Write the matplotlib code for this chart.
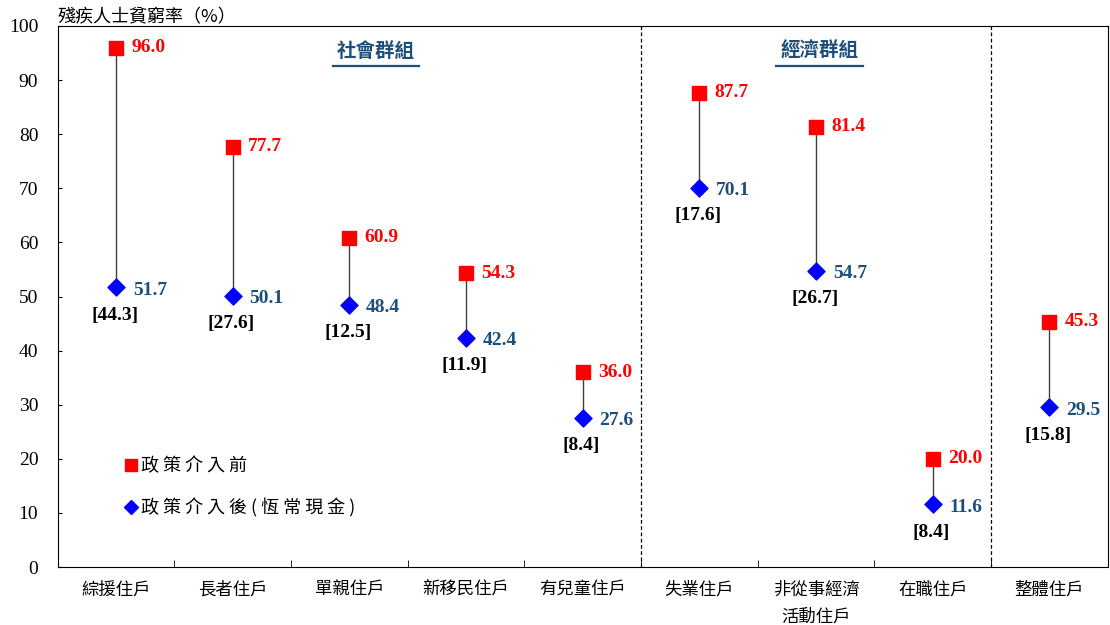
import numpy as np
import matplotlib.pyplot as plt
from matplotlib.lines import Line2D

plt.rcParams['font.family'] = ['Liberation Serif', 'Noto Sans CJK TC', 'DejaVu Sans']

# datos
categorias = ['綜援住戶', '長者住戶', '單親住戶', '新移民住戶', '有兒童住戶',
              '失業住戶', '非從事經濟\n活動住戶', '在職住戶', '整體住戶']
antes = [96.0, 77.7, 60.9, 54.3, 36.0, 87.7, 81.4, 20.0, 45.3]
despues = [51.7, 50.1, 48.4, 42.4, 27.6, 70.1, 54.7, 11.6, 29.5]
reduccion = [44.3, 27.6, 12.5, 11.9, 8.4, 17.6, 26.7, 8.4, 15.8]
grupos = ['社會群組', '經濟群組']
leyenda = ['政策介入前', '政策介入後(恆常現金)']

rojo = '#FF0000'
azul = '#0000FF'
azul_osc = '#1F4E79'
cjk = ['Noto Sans CJK TC', 'DejaVu Sans']


def espaciar(s):
    # separar los caracteres como en el original
    return ' '.join(s)


fig = plt.figure(figsize=(11.1, 6.25), dpi=100)
ax = fig.add_axes([0.052, 0.0928, 0.946, 0.8656])

x = np.arange(len(categorias))

# lineas verticales entre antes y despues
ax.vlines(x, despues, antes, color='#404040', lw=1, zorder=1)
ax.scatter(x, antes, marker='s', s=110, color=rojo, zorder=3)
ax.scatter(x, despues, marker='D', s=75, color=azul, zorder=3)

for xi, a, d, r in zip(x, antes, despues, reduccion):
    ax.annotate(f'{a:.1f}', (xi, a), xytext=(11, 0), textcoords='offset points',
                ha='left', va='center', color=rojo, fontsize=14, fontweight='bold')
    ax.annotate(f'{d:.1f}', (xi, d), xytext=(12, -2), textcoords='offset points',
                ha='left', va='center', color=azul_osc, fontsize=14, fontweight='bold')
    ax.annotate(f'[{r:.1f}]', (xi, d), xytext=(-1, -20), textcoords='offset points',
                ha='center', va='center', color='black', fontsize=14, fontweight='bold')

# separadores de grupos
for xs in [4.5, 7.5]:
    ax.axvline(xs, color='black', lw=0.9, ls=(0, (3, 2)))

for xc, g in zip([2.23, 6.03], grupos):
    ax.text(xc, 95.3, g, ha='center', va='center', fontsize=14,
            fontweight='bold', color=azul_osc, family=cjk)
    ax.plot([xc - 0.37, xc + 0.37], [92.6, 92.6], color=azul_osc, lw=1.6)

# leyenda
handles = [Line2D([], [], marker='s', color=rojo, ls='none', markersize=8.5),
           Line2D([], [], marker='D', color=azul, ls='none', markersize=7)]
ax.legend(handles, [espaciar(t) for t in leyenda], loc='upper left',
          bbox_to_anchor=(0.047, 0.233), frameon=False, handlelength=0.8,
          handletextpad=0.2, labelspacing=1.25, prop={'family': cjk, 'size': 13})

ax.set_xlim(-0.5, 8.5)
ax.set_ylim(0, 100)
ax.set_yticks(np.arange(0, 101, 10))
ax.tick_params(axis='y', direction='in', length=3, labelsize=14, pad=14)
ax.set_xticks(x)
ax.set_xticklabels(categorias, family=cjk, fontsize=12.5, linespacing=1.6)
ax.tick_params(axis='x', which='major', length=0, pad=10)
ax.set_xticks(np.arange(0.5, 8.5, 1), minor=True)
ax.tick_params(axis='x', which='minor', direction='in', length=5)

fig.text(0.052, 0.972, '殘疾人士貧窮率（%）', ha='left', va='center',
         fontsize=13, family=cjk)

fig.savefig('out.png', dpi=100)
